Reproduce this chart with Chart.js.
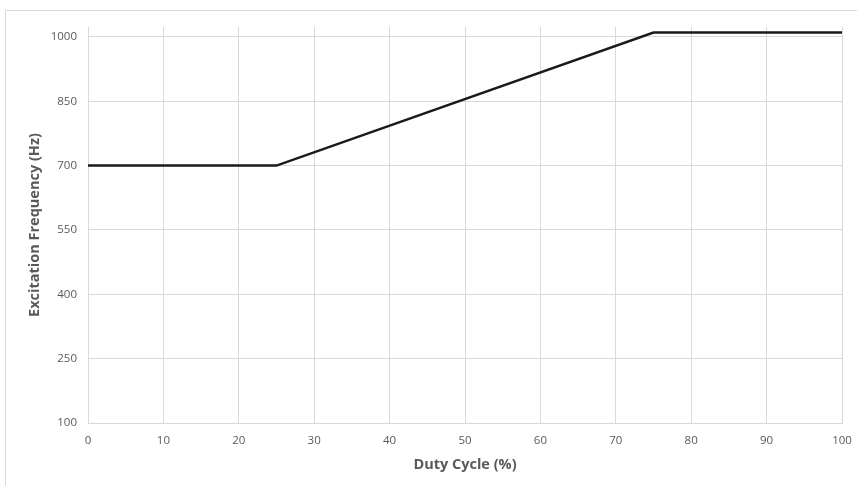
<!DOCTYPE html>
<html>
<head>
<meta charset="utf-8">
<script src="https://cdn.jsdelivr.net/npm/chart.js@4/dist/chart.umd.min.js"></script>
<style>
  html, body { margin: 0; padding: 0; background: #fff; overflow: hidden; }
  #frame { position: absolute; left: 5px; top: 10px; width: 880px; height: 500px; border: 1px solid #d9d9d9; }
  #chart { position: absolute; left: 0; top: 0; }
</style>
</head>
<body>
<div id="frame"></div>
<canvas id="chart" width="857" height="486"></canvas>
<script>
// ===== DATA =====
const dutyCycle = [0, 25, 75, 100];
const excitationHz = [700, 700, 1010, 1010];
const yTicks = [100, 250, 400, 550, 700, 850, 1000];
const xTicks = [0, 10, 20, 30, 40, 50, 60, 70, 80, 90, 100];

const gridColor = "#d9d9d9";
const textColor = "#595959";
const fontFamily = "'Open Sans', 'Liberation Sans', sans-serif";

new Chart(document.getElementById("chart"), {
  type: "line",
  data: {
    datasets: [{
      data: dutyCycle.map((x, i) => ({ x, y: excitationHz[i] })),
      borderColor: "#1a1a1a",
      borderWidth: 2.5,
      pointRadius: 0,
      tension: 0,
      fill: false
    }]
  },
  options: {
    responsive: false,
    animation: false,
    devicePixelRatio: 1,
    layout: { padding: { left: 0, right: 15, top: 27, bottom: 8 } },
    plugins: { legend: { display: false }, tooltip: { enabled: false } },
    scales: {
      x: {
        type: "linear",
        min: 0, max: 100,
        afterBuildTicks: s => { s.ticks = xTicks.map(v => ({ value: v })); },
        afterFit: s => { s.height = 55; s.paddingLeft = 0; s.paddingRight = 0; },
        grid: { color: gridColor, drawTicks: false },
        border: { color: gridColor },
        ticks: { color: textColor, font: { family: fontFamily, size: 11.5 }, padding: 11 },
        title: { display: true, text: "Duty Cycle (%)", color: textColor, font: { family: fontFamily, size: 14.5, weight: "bold" }, padding: { top: 6 } }
      },
      y: {
        type: "linear",
        min: 100, max: 1023,
        afterBuildTicks: s => { s.ticks = yTicks.map(v => ({ value: v })); },
        afterFit: s => { s.width = 88; },
        grid: { color: gridColor, drawTicks: false },
        border: { color: gridColor },
        ticks: { color: textColor, font: { family: fontFamily, size: 11.5 }, padding: 11, callback: v => String(v) },
        title: { display: true, text: "Excitation Frequency (Hz)", color: textColor, font: { family: fontFamily, size: 14.5, weight: "bold" }, padding: { top: 26, bottom: 4 } }
      }
    }
  }
});
</script>
</body>
</html>
